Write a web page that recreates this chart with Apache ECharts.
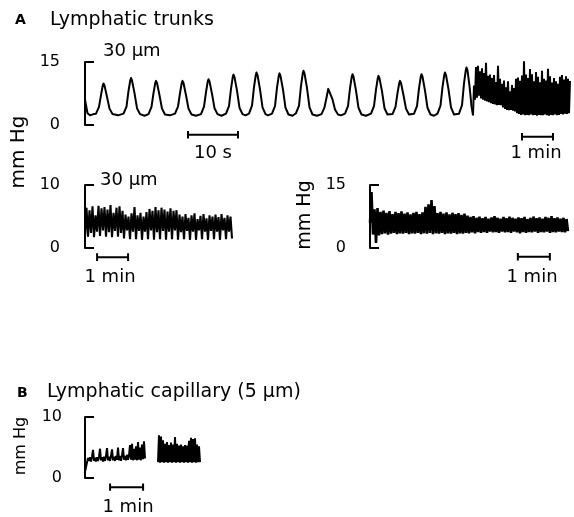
<!DOCTYPE html>
<html><head><meta charset="utf-8">
<script src="https://cdn.jsdelivr.net/npm/echarts@6/dist/echarts.min.js"></script>
<style>html,body{margin:0;padding:0;background:#fff}#c{width:574px;height:517px}</style>
</head><body><div id="c"></div>
<script>
// ---------- DATA ----------
// Panel A, 30 um trunk, slow sweep: time (s) and pressure (mm Hg)
const trunkSlowTime = [
 0, 0.5, 1.0, 1.7,
 2.2, 2.8, 3.2, 3.55, 3.7, 3.9, 4.4, 4.9, 5.5, 6.6,
 7.7, 8.3, 8.7, 9.05, 9.2, 9.4, 9.9, 10.4, 11.0, 11.9,
 12.7, 13.3, 13.7, 14.05, 14.2, 14.4, 14.9, 15.4, 16.0, 17.0,
 18.0, 18.6, 19.0, 19.35, 19.5, 19.7, 20.2, 20.7, 21.3, 22.2,
 23.2, 23.8, 24.2, 24.55, 24.7, 24.9, 25.4, 25.9, 26.5, 27.3,
 28.2, 28.8, 29.2, 29.55, 29.7, 29.9, 30.4, 30.9, 31.5, 32.1,
 32.8, 33.4, 33.8, 34.15, 34.3, 34.5, 35.0, 35.5, 36.1, 36.6,
 37.4, 38.0, 38.4, 38.75, 38.9, 39.1, 39.6, 40.1, 40.7, 41.5,
 42.2, 42.8, 43.2, 43.55, 43.7, 43.9, 44.4, 44.9, 45.5, 46.4,
 47.3, 47.9, 48.3, 48.65, 48.8, 49.0, 49.5, 50.0, 50.6, 51.2,
 52.0, 52.6, 53.0, 53.35, 53.5, 53.7, 54.2, 54.7, 55.3, 56.2,
 57.2, 57.8, 58.2, 58.55, 58.7, 58.9, 59.4, 59.9, 60.5, 60.9,
 61.5, 62.1, 62.5, 62.85, 63.0, 63.2, 63.7, 64.2, 64.8, 65.2,
 65.8, 66.4, 66.8, 67.15, 67.3, 67.5, 68.0, 68.5, 69.1, 69.8,
 70.5, 71.1, 71.5, 71.85, 72.0, 72.2, 72.7, 73.2, 73.8, 74.2,
 74.8, 75.4, 75.8, 76.15, 76.3, 76.5, 76.9, 77.3, 77.6];
const trunkSlowPressure = [
 6.0, 2.8, 2.3, 2.6,
 2.7, 4.3, 7.1, 9.4, 9.9, 9.4, 6.7, 3.9, 2.6, 2.3,
 2.7, 4.4, 8.1, 10.6, 11.2, 10.6, 7.6, 4.0, 2.6, 2.2,
 2.6, 4.3, 7.6, 10.0, 10.5, 10.0, 7.1, 3.9, 2.5, 2.3,
 2.7, 4.4, 7.6, 10.0, 10.5, 10.0, 7.1, 3.9, 2.5, 2.2,
 2.6, 4.4, 7.8, 10.4, 10.9, 10.4, 7.4, 4.0, 2.6, 2.2,
 2.7, 4.5, 8.6, 11.4, 12.0, 11.4, 8.2, 4.1, 2.6, 2.3,
 2.7, 4.6, 9.0, 11.9, 12.5, 11.9, 8.5, 4.2, 2.6, 2.3,
 2.7, 4.5, 8.9, 11.7, 12.3, 11.7, 8.4, 4.1, 2.5, 2.2,
 2.8, 4.6, 9.3, 12.3, 12.9, 12.3, 8.8, 4.2, 2.5, 2.2,
 2.6, 4.2, 6.5, 8.6, 9.0, 8.6, 6.1, 3.7, 2.5, 2.3,
 2.7, 4.5, 8.7, 11.5, 12.1, 11.5, 8.2, 4.1, 2.5, 2.2,
 2.7, 4.5, 8.4, 11.1, 11.7, 11.1, 8.0, 4.0, 2.5, 2.3,
 2.6, 4.3, 7.6, 10.0, 10.5, 10.0, 7.1, 3.9, 2.5, 2.3,
 2.7, 4.5, 8.7, 11.5, 12.1, 11.5, 8.2, 4.1, 2.5, 2.2,
 2.7, 4.6, 9.0, 11.9, 12.5, 11.9, 8.5, 4.2, 2.5, 2.3,
 2.7, 4.7, 9.9, 13.0, 13.7, 13.0, 9.3, 4.5, 2.3];

// Panel A, 30 um trunk, compressed sweep (samples every trunkFastStep min)
const trunkFastStep = 1 / 31;
const trunkFastPressure = [
 2.3, 9.4, 6.0, 13.8, 6.5, 14.1, 7.0, 12.8, 6.3, 13.5, 6.0, 12.4, 5.8, 14.8, 5.6, 11.7,
 5.4, 12.0, 5.2, 11.2, 5.0, 11.9, 4.9, 10.2, 4.7, 14.1, 4.8, 11.0, 4.7, 9.8, 4.2, 10.6,
 3.8, 9.0, 3.6, 10.4, 3.5, 8.0, 3.6, 9.5, 3.4, 8.8, 3.2, 11.0, 2.8, 11.3, 2.6, 10.5,
 2.4, 11.8, 2.5, 15.2, 2.3, 12.0, 2.4, 11.2, 2.3, 13.3, 2.5, 12.1, 2.3, 10.4, 2.4, 12.6,
 2.2, 11.5, 2.4, 10.2, 2.3, 12.9, 2.3, 11.0, 2.5, 10.6, 2.3, 13.4, 2.2, 11.6, 2.4, 10.1,
 2.3, 11.2, 2.5, 10.4, 2.3, 9.8, 2.4, 11.5, 2.6, 11.9, 2.5, 10.8, 2.7, 11.6, 2.6, 11.0,
 2.8, 10.5];

// Panel A, second 30 um trunk (samples every trunk2Step min)
const trunk2Step = 1.5 / 31;
const trunk2Pressure = [
 2.0, 6.4, 1.8, 6.0, 2.4, 6.6, 1.7, 5.2, 2.6, 6.7, 1.9, 6.3, 2.8, 6.5, 1.8, 6.1,
 2.5, 6.8, 1.7, 5.6, 2.7, 6.4, 1.8, 6.6, 2.4, 5.9, 1.5, 5.3, 2.8, 5.0, 1.4, 5.5,
 2.6, 6.5, 1.4, 5.2, 2.7, 5.6, 1.3, 5.0, 2.6, 5.7, 1.4, 6.2, 2.8, 5.9, 1.3, 6.5,
 2.5, 6.0, 1.4, 6.4, 2.7, 6.1, 1.3, 5.8, 2.6, 6.3, 1.4, 5.9, 2.8, 6.0, 1.3, 5.3,
 2.5, 5.0, 1.4, 5.4, 2.7, 4.8, 1.3, 5.2, 2.6, 5.5, 1.3, 4.6, 2.8, 5.1, 1.4, 5.4,
 2.6, 4.7, 1.3, 5.2, 2.7, 5.0, 1.4, 5.3, 2.6, 4.9, 1.3, 5.4, 2.8, 4.8, 1.4, 5.2,
 2.6, 5.0, 1.5];

// Panel A, third trunk (0-15 mm Hg scale), samples every trunk3Step min
const trunk3Step = 1.5 / 32;
const trunk3Pressure = [
 6.0, 13.3, 3.2, 9.2, 1.2, 9.5, 3.0, 8.6, 3.3, 8.9, 3.5, 8.4, 3.2, 8.8, 3.4, 8.1,
 3.6, 8.6, 3.3, 8.3, 3.5, 8.7, 3.4, 8.2, 3.6, 8.5, 3.3, 8.0, 3.5, 8.4, 3.4, 8.6,
 3.6, 8.1, 3.3, 8.5, 3.5, 9.8, 3.4, 10.4, 3.6, 11.4, 3.3, 10.0, 3.5, 8.3, 3.4, 8.6,
 3.6, 8.2, 3.3, 8.5, 3.5, 8.0, 3.4, 8.4, 3.6, 8.1, 3.3, 8.3, 3.5, 7.9, 3.4, 8.2,
 3.6, 7.7, 3.5, 7.4, 3.7, 7.6, 3.5, 7.2, 3.8, 7.5, 3.6, 7.1, 3.8, 7.4, 3.6, 7.0,
 3.9, 7.3, 3.7, 7.6, 3.8, 7.2, 3.6, 7.0, 3.9, 7.4, 3.7, 7.1, 3.8, 7.5, 3.6, 7.2,
 3.9, 7.0, 3.7, 7.3, 3.5, 7.1, 3.8, 7.4, 3.6, 6.9, 3.8, 7.2, 3.7, 7.5, 3.9, 7.1,
 3.6, 7.3, 3.8, 7.0, 3.7, 7.4, 3.9, 7.2, 3.6, 7.6, 3.8, 7.1, 3.7, 7.3, 3.9, 7.0,
 3.8, 7.2, 3.7, 6.9, 4.0];

// Panel B, lymphatic capillary (5 um), samples every capStep min; null = gap in record
const capStep = 1 / 33;
const capPressure = [
 1.0, 0.8, 1.2, 3.3, 2.8, 3.4, 2.7, 3.5, 4.6, 2.8, 3.3, 2.7, 3.4, 2.8, 3.5, 4.8,
 2.9, 3.4, 2.7, 3.5, 2.8, 3.6, 4.9, 2.9, 3.5, 2.8, 3.6, 4.7, 2.9, 3.5, 2.8, 3.6,
 3.0, 5.0, 2.9, 3.6, 2.8, 3.7, 4.9, 3.0, 3.6, 2.9, 3.8, 3.0, 3.7, 5.4, 3.0, 5.6,
 2.9, 4.8, 3.0, 5.2, 2.9, 5.9, 3.0, 5.0, 2.9, 5.5, 3.1, 6.0, 3.2,
 null, null, null, null, null, null, null, null, null, null, null, null,
 2.6, 7.0, 2.5, 6.8, 2.6, 6.2, 2.5, 5.6, 2.6, 5.9, 2.5, 5.4, 2.6, 5.8, 2.5, 5.5,
 2.6, 6.7, 2.5, 5.6, 2.6, 5.3, 2.5, 5.5, 2.6, 5.2, 2.5, 5.4, 2.6, 5.3, 2.5, 6.1,
 2.6, 6.6, 2.5, 6.4, 2.6, 6.5, 2.5, 5.5, 2.6, 5.2, 2.6];

// Axis tick labels and scale bars (data units)
const yTicksA1 = [0, 15], yTicksA3 = [0, 10], yTicksA4 = [0, 15], yTicksB = [0, 10];
const scaleBarSeconds = [20.6, 30.6];   // 10 s
const scaleBarA2Min = [1.58, 2.58];     // 1 min
const scaleBarA3Min = [0.39, 1.39];
const scaleBarA4Min = [4.62, 5.62];
const scaleBarBMin = [0.76, 1.76];

// ---------- BUILD ----------
const FONT = 'DejaVu Sans';
const sampled = (vals, dt) => vals.map((v, i) => [i * dt, v == null ? '-' : v]);
const slowData = trunkSlowTime.map((t, i) => [t, trunkSlowPressure[i]]);
function barPath(r, y, c) {
  return [[r[0], y + c], [r[0], y - c], [r[0], y], [r[1], y], [r[1], y + c], [r[1], y - c]];
}
const grids = [
  {left: 85, top: 62, width: 388, height: 63},
  {left: 473, top: 62, width: 98, height: 63},
  {left: 85, top: 185, width: 148, height: 63},
  {left: 370, top: 185, width: 198, height: 63},
  {left: 85, top: 417, width: 117, height: 61}
];
const xMax = [77.6, 98 / 31, 148 / 31, 198 / 32, 117 / 33];
const xAxes = xMax.map((m, i) => ({type: 'value', gridIndex: i, min: 0, max: m, show: false}));
function yAx(i, ticks, offset, show) {
  return {
    type: 'value', gridIndex: i, min: ticks[0], max: ticks[1], interval: ticks[1] - ticks[0],
    show: show, offset: offset,
    axisLine: {show: true, lineStyle: {color: '#000', width: 2}},
    axisTick: {show: true, inside: true, length: 9, lineStyle: {color: '#000', width: 2}},
    axisLabel: {color: '#000', fontSize: 16, fontFamily: FONT, margin: 11},
    splitLine: {show: false}
  };
}
const yAxes = [
  yAx(0, yTicksA1, 14, true),
  yAx(1, yTicksA1, 0, false),
  yAx(2, yTicksA3, 14, true),
  yAx(3, yTicksA4, 13, true),
  yAx(4, yTicksB, 12, true)
];
const lineBase = {type: 'line', showSymbol: false, symbol: 'none', silent: true, animation: false, sampling: null};
function trace(i, data, w, join) {
  return Object.assign({}, lineBase, {xAxisIndex: i, yAxisIndex: i, data: data,
    lineStyle: {color: '#000', width: w, join: join || 'round'}, connectNulls: false});
}
function bar(i, data) {
  return Object.assign({}, lineBase, {xAxisIndex: i, yAxisIndex: i, data: data, clip: false,
    lineStyle: {color: '#000', width: 2}});
}
const series = [
  trace(0, slowData, 2, 'round'),
  trace(1, sampled(trunkFastPressure, trunkFastStep), 2, 'bevel'),
  trace(2, sampled(trunk2Pressure, trunk2Step), 2.1, 'bevel'),
  trace(3, sampled(trunk3Pressure, trunk3Step), 2.6, 'bevel'),
  trace(4, sampled(capPressure, capStep), 2, 'bevel'),
  bar(0, barPath(scaleBarSeconds, -2.3, 0.9)),
  bar(1, barPath(scaleBarA2Min, -2.8, 0.9)),
  bar(2, barPath(scaleBarA3Min, -1.45, 0.6)),
  bar(3, barPath(scaleBarA4Min, -2.1, 0.9)),
  bar(4, barPath(scaleBarBMin, -1.5, 0.6))
];
function txt(s, x, y, size, opts) {
  opts = opts || {};
  return {type: 'text', x: x, y: y, rotation: opts.rot || 0, silent: true,
    style: {text: s, fill: '#000', font: (opts.bold ? 'bold ' : '') + size + 'px "' + FONT + '"',
      align: opts.align || 'left', verticalAlign: 'middle'}};
}
const graphics = [
  txt('A', 15, 20, 14, {bold: true}),
  txt('Lymphatic trunks', 50, 20, 19),
  txt('30 \u03bcm', 103, 51, 18),
  txt('10 s', 213, 153, 18, {align: 'center'}),
  txt('1 min', 536, 153, 18, {align: 'center'}),
  txt('mm Hg', 19, 152, 20, {align: 'center', rot: Math.PI / 2}),
  txt('30 \u03bcm', 100, 180, 18),
  txt('1 min', 110, 277, 18, {align: 'center'}),
  txt('mm Hg', 305, 215, 19, {align: 'center', rot: Math.PI / 2}),
  txt('1 min', 532, 277, 18, {align: 'center'}),
  txt('B', 17, 393, 14, {bold: true}),
  txt('Lymphatic capillary (5 \u03bcm)', 47, 392, 19),
  txt('mm Hg', 21, 446, 16, {align: 'center', rot: Math.PI / 2}),
  txt('1 min', 128, 507, 18, {align: 'center'})
];
const chart = echarts.init(document.getElementById('c'), null, {renderer: 'canvas'});
chart.setOption({
  animation: false,
  backgroundColor: '#fff',
  grid: grids,
  xAxis: xAxes,
  yAxis: yAxes,
  series: series,
  graphic: graphics
});
</script>
</body></html>
